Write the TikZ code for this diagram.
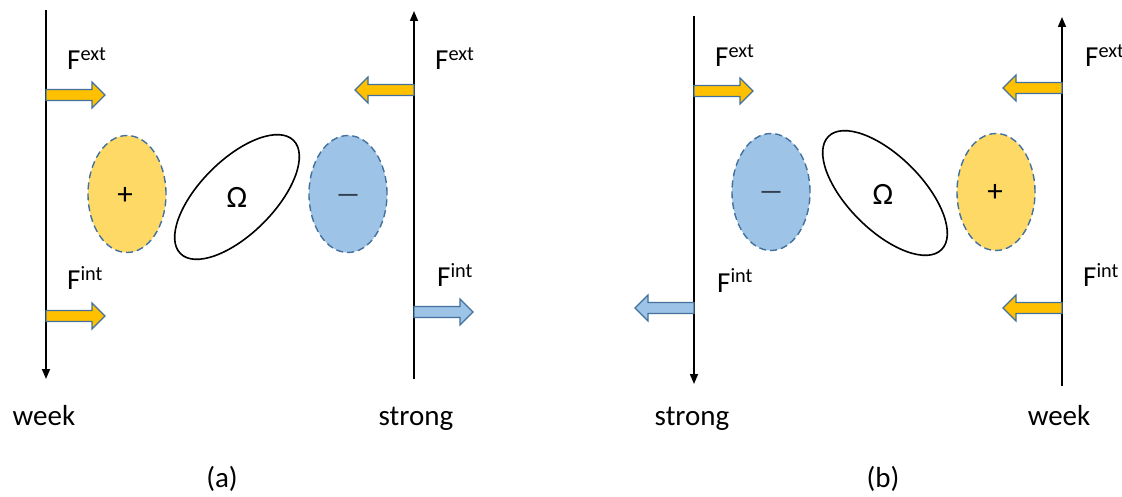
\documentclass[tikz,border=0pt]{standalone}
\usepackage{fontspec}
\setmainfont{Carlito}
\newfontfamily\dashfont{Liberation Sans}
\usetikzlibrary{shapes.geometric,arrows.meta}
\definecolor{accblue}{HTML}{41719C}
\definecolor{arryel}{HTML}{FFC000}
\definecolor{elyel}{HTML}{FFD966}
\definecolor{elblue}{HTML}{9DC3E6}
\definecolor{minuscol}{HTML}{333F50}
\tikzset{
  axisline/.style={line width=1.6pt},
  axisarrow/.style={axisline, -{Triangle[length=10pt,width=8pt]}},
  blk/.style={draw=accblue, line width=1.2pt, line join=miter},
  yelarr/.style={blk, fill=arryel},
  bluarr/.style={blk, fill=elblue},
  charge/.style={ellipse, draw=accblue, dash pattern=on 7pt off 4pt, line width=1.4pt,
    minimum width=78pt, minimum height=117pt, inner sep=0pt},
  omegaell/.style={ellipse, draw=black, line width=1.6pt, minimum width=160pt, minimum height=74pt, inner sep=0pt},
  symb/.style={font=\fontsize{31}{36}\selectfont, inner sep=0pt},
  minussym/.style={font=\dashfont\bfseries\fontsize{19}{22}\selectfont, text=minuscol, inner sep=0pt},
  lbl/.style={font=\fontsize{29}{34}\selectfont, inner sep=0pt},
  barrow/.pic={\path[pic actions] (0,-5.5) -- (46,-5.5) -- (46,-13) -- (59,0) -- (46,13) -- (46,5.5) -- (0,5.5) -- cycle;}
}
\begin{document}
\begin{tikzpicture}[x=1pt,y=-1pt]
\useasboundingbox (0,0) rectangle (1122,497);
% ---------- panel (a)
\coordinate (aLtop) at (46,10);
\coordinate (aLbot) at (46,379);
\coordinate (aRbot) at (414,379);
\coordinate (aRtop) at (414,11);
\draw[axisarrow] (aLtop) -- (aLbot);
\draw[axisarrow] (aRbot) -- (aRtop);
\pic[yelarr] at (46,95) {barrow};
\pic[yelarr, rotate=180] at (414,90) {barrow};
\pic[yelarr] at (46,316) {barrow};
\pic[bluarr] at (414,312) {barrow};
\node[lbl, anchor=base west] (aFe1) at (67,70) {F\textsuperscript{ext}};
\node[lbl, anchor=base west] (aFe2) at (435,70) {F\textsuperscript{ext}};
\node[lbl, anchor=base west] (aFi1) at (67,290) {F\textsuperscript{int}};
\node[lbl, anchor=base west] (aFi2) at (437,287) {F\textsuperscript{int}};
\node[charge, fill=elyel] (aplus) at (127,194) {};
\node[symb] (aplust) at (125,196) {+};
\node[omegaell, rotate=45] (aom) at (237,197) {};
\node[symb] (aomt) at (237,197) {Ω};
\node[charge, fill=elblue] (aminus) at (348,194) {};
\node[minussym, anchor=base] (aminust) at (348,201) {—};
\node[lbl, anchor=base] (aweek) at (44,425) {week};
\node[lbl, anchor=base] (astrong) at (416,425) {strong};
\node[lbl, anchor=base] (acap) at (222,487) {(a)};
% ---------- panel (b)
\coordinate (bLtop) at (694,16);
\coordinate (bLbot) at (694,384);
\coordinate (bRbot) at (1062,386);
\coordinate (bRtop) at (1062,17);
\draw[axisarrow] (bLtop) -- (bLbot);
\draw[axisarrow] (bRbot) -- (bRtop);
\pic[yelarr] at (694,91) {barrow};
\pic[yelarr, rotate=180] at (1062,88) {barrow};
\pic[bluarr, rotate=180] at (694,308) {barrow};
\pic[yelarr, rotate=180] at (1062,308) {barrow};
\node[lbl, anchor=base west] (bFe1) at (715,67) {F\textsuperscript{ext}};
\node[lbl, anchor=base west] (bFe2) at (1085,67) {F\textsuperscript{ext}};
\node[lbl, anchor=base west] (bFi1) at (717,292) {F\textsuperscript{int}};
\node[lbl, anchor=base west] (bFi2) at (1083,287) {F\textsuperscript{int}};
\node[charge, fill=elblue] (bminus) at (771,192) {};
\node[minussym, anchor=base] (bminust) at (771,198) {—};
\node[omegaell, rotate=-45] (bom) at (885,193) {};
\node[symb] (bomt) at (883,194) {Ω};
\node[charge, fill=elyel] (bplus) at (996,192) {};
\node[symb] (bplust) at (995,193) {+};
\node[lbl, anchor=base] (bstrong) at (692,425) {strong};
\node[lbl, anchor=base] (bweek) at (1059,425) {week};
\node[lbl, anchor=base] (bcap) at (883,487) {(b)};
\end{tikzpicture}
\end{document}
